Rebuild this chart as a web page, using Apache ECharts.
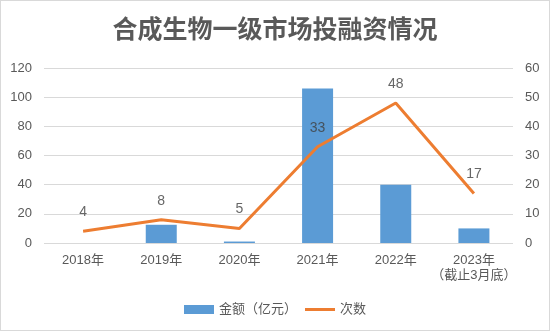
<!DOCTYPE html>
<html><head><meta charset="utf-8">
<script src="https://cdn.jsdelivr.net/npm/echarts@6/dist/echarts.min.js"></script>
<style>html,body{margin:0;padding:0;background:#fff}#c{width:550px;height:331px;box-sizing:border-box;border:1px solid #d9d9d9}</style>
</head><body><div id="c"></div>
<script>
const categories = ['2018年','2019年','2020年','2021年','2022年','2023年\n（截止3月底）'];
const amount = [0, 12.5, 1, 106, 40, 10];
const counts = [4, 8, 5, 33, 48, 17];
const leftTicks = [0, 20, 40, 60, 80, 100, 120];
const rightTicks = [0, 10, 20, 30, 40, 50, 60];

const chart = echarts.init(document.getElementById('c'));
const font = '"Liberation Sans", "Noto Sans CJK SC", sans-serif';
const lineIcon = 'path://M0,0 L0.01,0 L0,0.01 Z M0,3 H30 V6 H0 Z M30,9 L29.99,9 L30,8.99 Z';
chart.setOption({
  animation: false,
  textStyle: {fontFamily: font},
  title: {text: '合成生物一级市场投融资情况', left: 'center', top: 10,
    textStyle: {fontSize: 25, fontWeight: 'bold', color: '#595959', fontFamily: '"Noto Sans CJK SC", sans-serif'}},
  grid: {left: 43, right: 36, top: 67, bottom: 87, containLabel: false},
  legend: {bottom: 9, left: 'center', itemGap: 8, itemWidth: 30, itemHeight: 9,
    textStyle: {color: '#595959', fontSize: 13, fontFamily: font},
    data: [{name: '金额（亿元）', icon: 'rect'}, {name: '次数', icon: lineIcon}]},
  xAxis: {type: 'category', data: categories,
    axisLine: {show: false}, axisTick: {show: false},
    axisLabel: {color: '#595959', fontSize: 13, margin: 10, lineHeight: 15, interval: 0, fontFamily: font}},
  yAxis: [
    {type: 'value', min: 0, max: 120, interval: 20,
     axisLabel: {color: '#595959', fontSize: 13, margin: 12, fontFamily: font},
     splitLine: {lineStyle: {color: '#d9d9d9'}}, axisLine: {show: false}},
    {type: 'value', min: 0, max: 60, interval: 10,
     axisLabel: {color: '#595959', fontSize: 13, margin: 12, fontFamily: font},
     splitLine: {show: false}, axisLine: {show: false}}
  ],
  series: [
    {name: '金额（亿元）', type: 'bar', data: amount, barWidth: 31,
     itemStyle: {color: '#5B9BD5'}},
    {name: '次数', type: 'line', yAxisIndex: 1, data: counts, symbol: 'none',
     lineStyle: {color: '#ED7D31', width: 3}, itemStyle: {color: '#ED7D31'}},
    {name: 'labels', type: 'scatter', yAxisIndex: 1, data: counts, symbolSize: 0,
     silent: true,
     label: {show: true, position: 'top', distance: 12, color: '#404040', fontSize: 14,
       fontFamily: font, formatter: p => String(p.value)}}
  ]
});
</script></body></html>
